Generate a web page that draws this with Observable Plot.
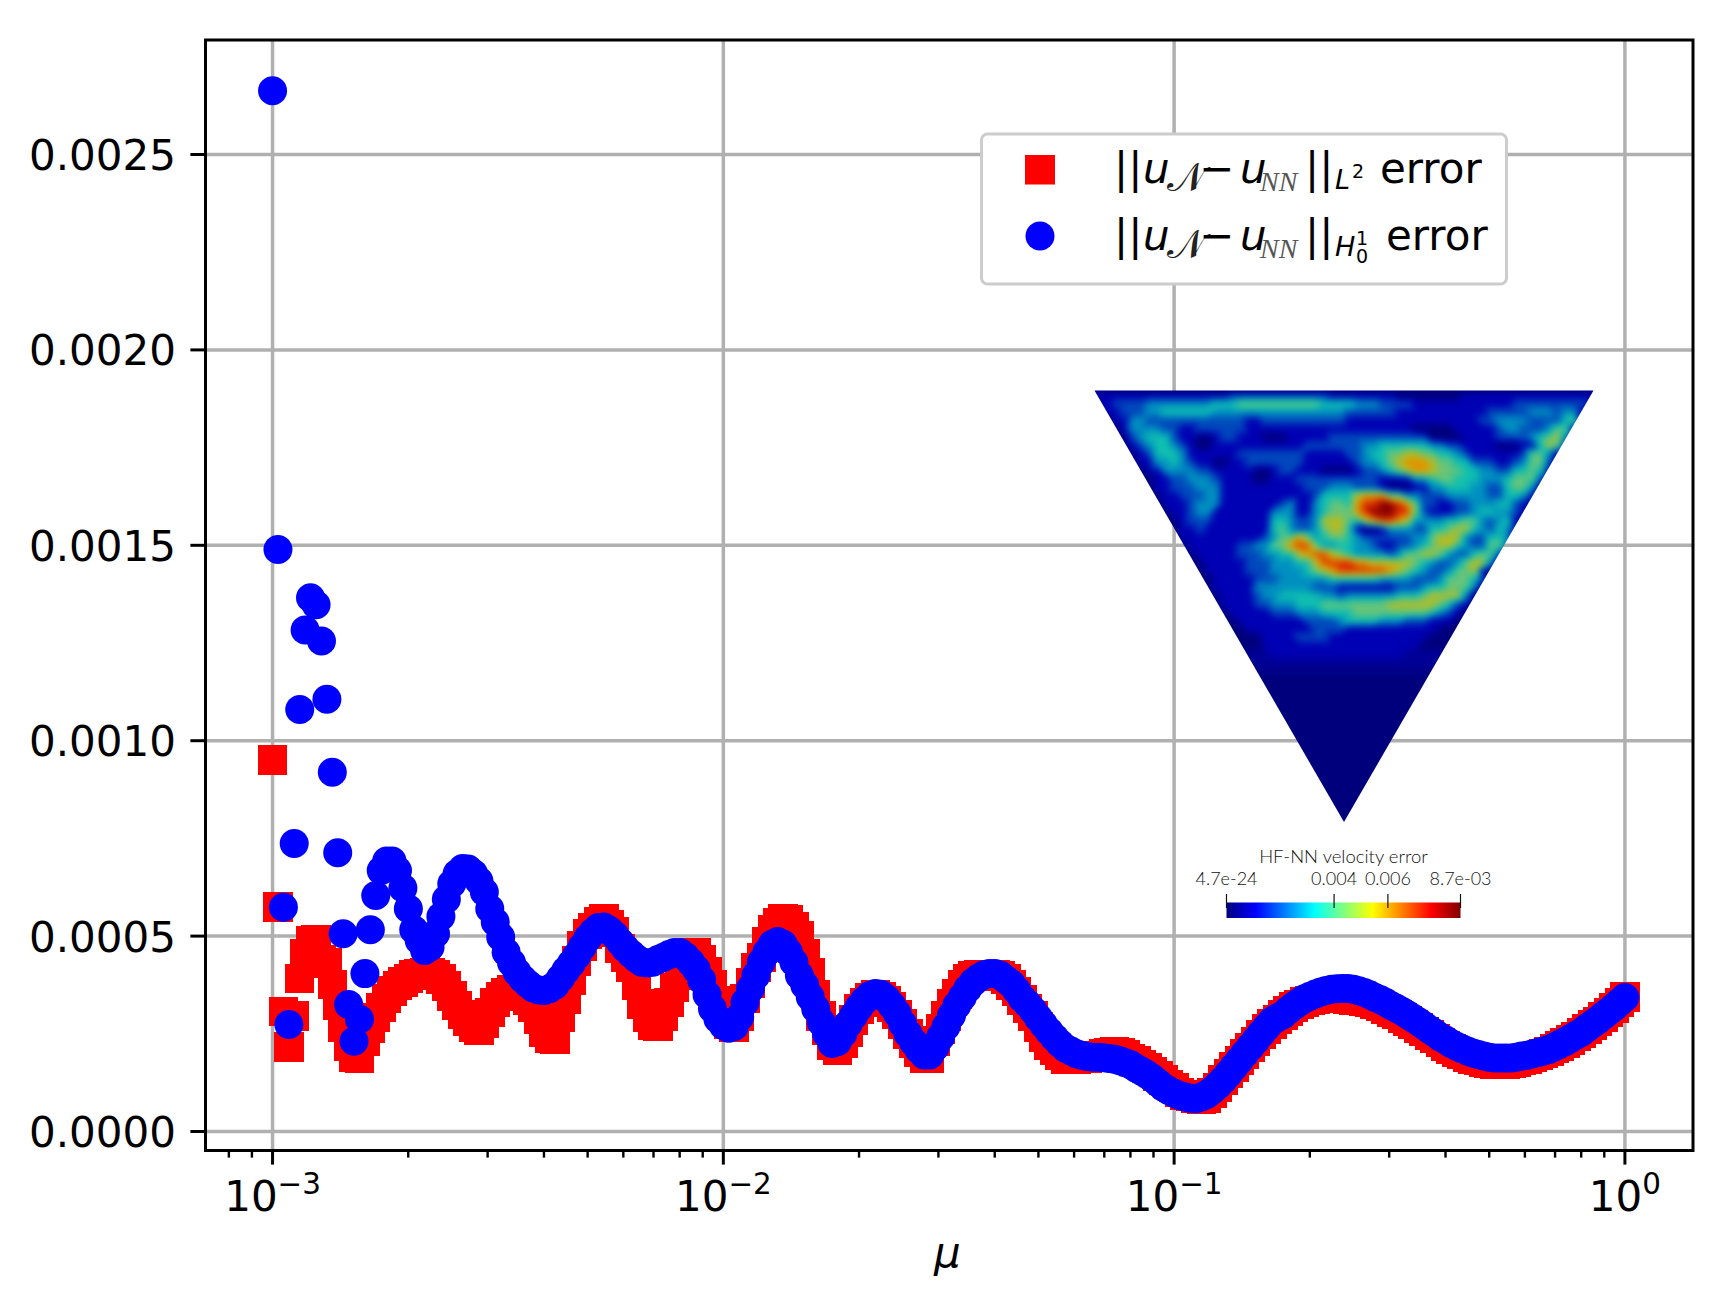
<!DOCTYPE html>
<html>
<head>
<meta charset="utf-8">
<script src="https://cdn.jsdelivr.net/npm/d3@7"></script>
<script src="https://cdn.jsdelivr.net/npm/@observablehq/plot@0.6"></script>
<style>
  body { margin: 0; background: #fff; }
  #chart { position: relative; width: 1735px; height: 1312px; overflow: hidden; }
  #chart svg { position: absolute; max-width: none; }
</style>
</head>
<body>
<div id="chart"></div>
<script>
// mu samples
const muValues = [
  1.000e-3,1.028e-3,1.057e-3,1.087e-3,1.117e-3,1.149e-3,1.181e-3,1.214e-3,1.249e-3,1.284e-3,
  1.320e-3,1.357e-3,1.395e-3,1.434e-3,1.475e-3,1.516e-3,1.559e-3,1.603e-3,1.648e-3,1.694e-3,
  1.742e-3,1.791e-3,1.841e-3,1.893e-3,1.946e-3,2.001e-3,2.057e-3,2.115e-3,2.174e-3,2.236e-3,
  2.299e-3,2.363e-3,2.430e-3,2.498e-3,2.568e-3,2.641e-3,2.715e-3,2.791e-3,2.870e-3,2.950e-3,
  3.033e-3,3.119e-3,3.207e-3,3.297e-3,3.390e-3,3.485e-3,3.583e-3,3.684e-3,3.787e-3,3.894e-3,
  4.003e-3,4.116e-3,4.232e-3,4.351e-3,4.473e-3,4.599e-3,4.728e-3,4.861e-3,4.998e-3,5.139e-3,
  5.283e-3,5.432e-3,5.585e-3,5.742e-3,5.903e-3,6.069e-3,6.240e-3,6.416e-3,6.596e-3,6.782e-3,
  6.972e-3,7.168e-3,7.370e-3,7.578e-3,7.791e-3,8.010e-3,8.235e-3,8.467e-3,8.705e-3,8.950e-3,
  9.202e-3,9.460e-3,9.727e-3,
  1.000e-2,1.028e-2,1.057e-2,1.087e-2,1.117e-2,1.149e-2,1.181e-2,1.214e-2,1.249e-2,1.284e-2,
  1.320e-2,1.357e-2,1.395e-2,1.434e-2,1.475e-2,1.516e-2,1.559e-2,1.603e-2,1.648e-2,1.694e-2,
  1.742e-2,1.791e-2,1.841e-2,1.893e-2,1.946e-2,2.001e-2,2.057e-2,2.115e-2,2.174e-2,2.236e-2,
  2.299e-2,2.363e-2,2.430e-2,2.498e-2,2.568e-2,2.641e-2,2.715e-2,2.791e-2,2.870e-2,2.950e-2,
  3.033e-2,3.119e-2,3.207e-2,3.297e-2,3.390e-2,3.485e-2,3.583e-2,3.684e-2,3.787e-2,3.894e-2,
  4.003e-2,4.116e-2,4.232e-2,4.351e-2,4.473e-2,4.599e-2,4.728e-2,4.861e-2,4.998e-2,5.139e-2,
  5.283e-2,5.432e-2,5.585e-2,5.742e-2,5.903e-2,6.069e-2,6.240e-2,6.416e-2,6.596e-2,6.782e-2,
  6.972e-2,7.168e-2,7.370e-2,7.578e-2,7.791e-2,8.010e-2,8.235e-2,8.467e-2,8.705e-2,8.950e-2,
  9.202e-2,9.460e-2,9.727e-2,
  1.000e-1,1.028e-1,1.057e-1,1.087e-1,1.117e-1,1.149e-1,1.181e-1,1.214e-1,1.249e-1,1.284e-1,
  1.320e-1,1.357e-1,1.395e-1,1.434e-1,1.475e-1,1.516e-1,1.559e-1,1.603e-1,1.648e-1,1.694e-1,
  1.742e-1,1.791e-1,1.841e-1,1.893e-1,1.946e-1,2.001e-1,2.057e-1,2.115e-1,2.174e-1,2.236e-1,
  2.299e-1,2.363e-1,2.430e-1,2.498e-1,2.568e-1,2.641e-1,2.715e-1,2.791e-1,2.870e-1,2.950e-1,
  3.033e-1,3.119e-1,3.207e-1,3.297e-1,3.390e-1,3.485e-1,3.583e-1,3.684e-1,3.787e-1,3.894e-1,
  4.003e-1,4.116e-1,4.232e-1,4.351e-1,4.473e-1,4.599e-1,4.728e-1,4.861e-1,4.998e-1,5.139e-1,
  5.283e-1,5.432e-1,5.585e-1,5.742e-1,5.903e-1,6.069e-1,6.240e-1,6.416e-1,6.596e-1,6.782e-1,
  6.972e-1,7.168e-1,7.370e-1,7.578e-1,7.791e-1,8.010e-1,8.235e-1,8.467e-1,8.705e-1,8.950e-1,
  9.202e-1,9.460e-1,9.727e-1,1
];

// L2 error (red squares)
const errorL2 = [
  .00095,.000574,.000307,.000216,.000296,.000391,.000455,.000489,.00049,.00044,
  .000431,.000376,.000322,.000266,.000219,.00019,.000187,.000232,.000264,.000292,
  .000317,.00034,.00036,.000373,.000383,.000392,.0004,.000404,.000407,.000405,
  .0004,.00039,.000372,.000347,.000323,.0003,.000283,.000268,.000258,.000278,
  .000305,.00033,.000345,.000355,.000362,.000362,.000352,.000335,.000317,.000288,
  .000254,.000238,.000236,.000292,.000339,.000388,.000436,.000475,.000505,.000522,
  .000538,.000545,.00053,.00051,.000468,.000445,.00042,.000373,.000326,.000292,
  .000271,.00027,.000296,.00033,.000368,.0004,.00043,.000445,.000457,.00044,
  .00041,.000375,.000335,.000305,.000275,.000266,.000295,.00034,.00038,.00042,
  .000445,.000485,.000515,.000535,.000545,.000542,.000525,.0005,.000455,.000405,
  .00035,.000295,.00026,.00022,.000208,.000225,.000255,.000285,.000313,.00033,
  .000342,.00035,.000345,.000335,.000318,.0003,.000275,.00025,.000225,.000203,
  .000188,.000187,.000232,.000262,.000295,.000327,.000352,.000375,.000392,.000398,
  .0004,.000402,.000402,.000402,.000398,.00039,.000375,.000358,.000337,.000315,
  .000295,.000268,.000242,.000221,.000209,.000195,.000185,.000185,.000186,.000187,
  .000188,.000192,.000195,.000198,.000202,.000203,.000202,.000197,.000187,.00018,
  .000172,.000162,.000153,.000142,.000132,.00012,.000112,.0001,.000094,.00009,
  .000086,.000083,.000086,.000098,.000113,.000132,.000148,.000165,.000182,.000198,
  .000215,.00023,.000248,.000262,.000275,.000286,.000298,.000308,.000318,.000325,
  .000331,.000335,.000338,.00034,.000341,.000341,.000341,.00034,.000338,.000337,
  .000335,.000333,.00033,.000326,.00032,.000313,.000306,.000299,.000291,.000283,
  .000274,.000265,.000256,.000247,.000238,.000228,.000219,.000211,.000204,.000197,
  .000191,.000186,.000182,.000178,.000175,.000173,.000172,.000173,.000175,.000178,
  .000182,.000186,.00019,.000195,.0002,.000205,.000212,.000219,.000226,.000234,
  .000243,.000252,.000262,.000272,.000282,.000293,.000304,.000316,.00033,.000344
];

// H1_0 error (blue circles)
const errorH1 = [
  .002663,.001489,.000574,.000274,.000737,.00108,.001283,.001366,.001348,.001255,
  .001106,.000919,.000713,.000506,.000325,.000231,.000287,.000404,.000516,.000604,
  .000668,.000692,.000692,.000668,.000623,.00057,.000516,.000489,.000463,.000472,
  .000506,.00055,.000594,.000634,.00066,.000673,.000672,.00066,.000641,.000613,
  .00057,.000536,.000498,.000459,.000432,.000408,.000391,.000378,.000367,.000362,
  .000361,.000365,.000374,.000392,.000412,.00043,.00045,.000472,.000494,.00051,
  .000522,.000523,.000515,.000502,.000485,.000468,.000455,.000443,.000433,.000431,
  .000433,.00044,.000446,.000453,.000458,.000458,.000448,.000433,.000415,.000388,
  .00035,.000314,.000288,.000271,.000264,.000269,.000293,.000331,.000366,.000399,
  .000433,.000459,.000479,.000486,.000479,.000459,.000433,.000399,.000374,.000344,
  .000314,.00028,.00025,.000225,.00023,.00025,.000276,.000297,.000318,.000335,
  .000348,.000353,.000351,.00034,.000323,.000302,.000276,.00025,.000229,.00021,
  .000196,.000196,.000216,.000242,.000269,.000297,.000323,.000344,.000365,.000382,
  .000393,.000401,.000404,.000404,.0004,.000389,.000378,.000361,.000341,.000327,
  .00031,.000291,.000273,.000256,.00024,.000225,.000213,.000206,.000199,.000195,
  .000192,.00019,.00019,.000189,.000187,.000185,.000181,.000176,.000171,.000162,
  .000154,.000146,.000136,.000125,.000113,.000105,.000098,.000092,.000088,.000085,
  .000084,.000088,.000095,.000105,.000118,.000132,.000148,.000165,.000182,.000199,
  .000216,.000233,.00025,.000267,.000282,.000291,.000298,.00031,.000321,.000331,
  .00034,.000346,.000352,.000357,.000361,.000364,.000365,.000366,.000366,.000364,
  .00036,.000356,.00035,.000343,.000337,.00033,.000322,.000315,.000307,.000299,
  .00029,.000281,.000271,.000261,.000252,.000242,.000234,.000225,.000218,.000212,
  .000206,.000201,.000197,.000193,.00019,.000188,.000188,.000188,.000188,.00019,
  .000193,.000195,.000199,.000202,.000206,.00021,.000216,.000223,.00023,.000238,
  .000246,.000254,.000265,.000275,.000285,.000296,.000307,.000318,.000331,.000343
];

const xMajor = [1e-3, 1e-2, 1e-1, 1];
const xMajorExponents = ['−3', '−2', '−1', '0'];
const xMinor = [8e-4, 9e-4,
  2e-3, 3e-3, 4e-3, 5e-3, 6e-3, 7e-3, 8e-3, 9e-3,
  2e-2, 3e-2, 4e-2, 5e-2, 6e-2, 7e-2, 8e-2, 9e-2,
  2e-1, 3e-1, 4e-1, 5e-1, 6e-1, 7e-1, 8e-1, 9e-1];
const yTicks = [0, 0.0005, 0.001, 0.0015, 0.002, 0.0025];

// inset velocity error field, one digit per cell (levels 0 to 9, a = 0.5), spaces only group the digits
const heatRowY = [5, 20, 45, 70, 95, 120, 145, 170, 195, 220, 245, 270, 295, 320, 345, 370, 395, 420, 445,
  470, 495, 520, 545, 570, 595, 620, 645, 670, 695, 720, 745, 770, 795, 820, 870, 1320];
const heatRows = [
  '0000000000 0000000000 0000000000 0000000000 0000000000 0000000000',
  '1111111111111111 222222222222 11111111 00000000 1111111111111111',
  '11 2222 33333333 444 5555555555 4444 333 2222 111111111111 222222222 1',
  '111 222 33 444444 33333333333333 3322 2222 11111111 111222 223332 33 10',
  '00 11 33 22 2222222222 11222222222211 11111111 111111 2233332 222 45 00',
  '000 1 333 32 211 222222 11111111111111 111111 00000 11111 2332 22 355 100',
  '0000 2 3444 211 00 122 111 000 11111 22222 2222222 0000 1111 2222 34 56 3 000',
  '0000 1 2344 3 2 100 1111 1111 111222 2222 33 444444 33 22 1111 000 11 465 1000',
  '00000 12 444 3 111 111 22222222 111112 23 44 55 66 55 44 32 111111 2 55 3 00000',
  '00000 11 33 43 21 10 011 2222222 1111 112 33 45 6777 65 544 222 112 355 2 00000',
  '000000 11 3333 22 11111 00 122 111 0000 1 22 34 56 77 65 55 44 33 22 44 54 100000',
  '000000 01 122 333 2 1111 00 111 22222222 2211 11 33 4554 44 33 34 555 2 000000',
  '0000000 112 22 333 1111111111 222 333 2221 000 11 33 444 33 22 455 3 0000000',
  '0000000 011 222 33 11111111111 2 4444 6777 55 33 222 33333 22 44 3 10000000',
  '00000000 111 2333 1111111 23 11 34 55 4 7 8899 87 5 22 11 223 33 44 21 00000000',
  '000000000 11 233 1111111 333 11 34 555 7 89998 8 5 21 11 22 344 33 21 00000000',
  '000000000 01 222 1111111 44 32 23 666 54 67 887 63 333 44 55 32 34 1 000000000',
  '0000000000 112 11111111 45 32 23 566 4 1001 333 22 44 566 43 24 3 1 000000000',
  '0000000000 1111111111 23 55 75 34 55 43 222222 33 5666 32 24 43 0000000000',
  '00000000000 11111 122 33 55 788 53 344 332 11 22 34 566 43 22 55 2 0000000000',
  '000000000000 11111 222 33 44 67 88 65 43 333 23 55 665 322 455 2 00000000000',
  '000000000000 011111 222 33 344 6 8888 77 66 666 54 32 23 566 3 000000000000',
  '0000000000000 11111 222 3333 45 67 88888 87 654 32 23 556 1 0000000000000',
  '00000000000000 11111 222 333333 444444 3333 222 3555 42 0000000000000',
  '00000000000000 11111 3333333 222 1111111 222 344 555 3 00000000000000',
  '000000000000000 1111 233 4444 433 233 3333 444 56666 3 000000000000000',
  '000000000000000 1111 2233 344 455555555 666666 54 21 000000000000000',
  '0000000000000000 11111 222 333 4444 555555555 432 1 0000000000000000',
  '00000000000000000 111111 112 222 3444433 3222 111 0 0000000000000000',
  '000000000000000000 111111 11222211 111111111 0 000000000000000000',
  '0000000000000000000 0111 122221 11111111111 00000000000000000000',
  '00000000000000000000 1111111111111111111 000000000000000000000',
  '000000000000000000 aaa 1111111111111111 aaaaa 000000000000000000',
  '0000000000000000000 aaaaaaaaaaaaaaaaaaaaaa 0000000000000000000',
  '0000000000 0000000000 0000000000 0000000000 0000000000 0000000000',
  '0000000000 0000000000 0000000000 0000000000 0000000000 0000000000'
];
const heatLevels = [0, 1, 2, 3, 4, 5, 6, 7, 8, 9];
const heatColors = ['#00007c', '#0000b4', '#0048bc', '#0090c0', '#10c0b0', '#68c478', '#b4bc20', '#e09400', '#dc2c00', '#860000'];

// colour bar
const barStops = [0, 0.0010875, 0.0032625, 0.0054375, 0.0076125, 0.0087];
const barColors = ['#00007f', '#0000ff', '#00ffff', '#ffff00', '#ff0000', '#7f0000'];
const barTicks = [0, 0.004, 0.006, 0.0087];
const barLabels = ['4.7e-24', '0.004', '0.006', '8.7e-03'];

const chart = document.getElementById('chart');

const main = Plot.plot({
  width: 1735,
  height: 1312,
  marginLeft: 205,
  marginRight: 42.5,
  marginTop: 39.5,
  marginBottom: 162,
  style: { fontFamily: "'DejaVu Sans'", color: '#000', background: 'transparent', left: 0, top: 0 },
  x: { type: 'log', domain: [0.00071, 1.416] },
  y: { domain: [-0.0000486, 0.002793] },
  marks: [
    Plot.ruleX(xMajor, { stroke: '#b0b0b0', strokeWidth: 3.5 }),
    Plot.ruleY(yTicks, { stroke: '#b0b0b0', strokeWidth: 3.5 }),
    Plot.axisX({ ticks: xMinor, tickSize: 7.6, strokeWidth: 2.4, tickFormat: () => '', label: null }),
    Plot.axisX({
      ticks: xMajor, tickSize: 14.6, strokeWidth: 3, tickPadding: 16, fontSize: 42, label: null,
      tickFormat: d => '10^' + xMajorExponents[xMajor.indexOf(d)]
    }),
    Plot.axisY({ ticks: yTicks, tickSize: 14.6, strokeWidth: 3, tickFormat: () => '', label: null }),
    Plot.axisY({ ticks: yTicks, tickSize: 0, tickPadding: 29.6, dy: 2, fontSize: 42, label: null, tickFormat: d3.format('.4f') }),
    Plot.text(['μ'], { frameAnchor: 'bottom', dy: 116, dx: -2, fontSize: 42, fontStyle: 'italic', lineAnchor: 'bottom' }),
    Plot.dot(errorL2, { x: muValues, y: errorL2, symbol: 'square', r: 16.64, fill: '#ff0000', shapeRendering: 'crispEdges' }),
    Plot.dot(errorH1, { x: muValues, y: errorH1, r: 14.5, fill: '#0000ff' }),
    Plot.frame({ stroke: '#000', strokeWidth: 3 })
  ]
});
chart.appendChild(main);

// superscripts for the decade labels
d3.select(main).selectAll('text').each(function () {
  const label = this.textContent;
  if (!label.startsWith('10^')) return;
  const [base, exponent] = label.split('^');
  const t = d3.select(this).text('');
  t.append('tspan').text(base);
  t.append('tspan').attr('font-size', '70%').attr('dy', '-0.58em').text(exponent);
});

// inset: velocity error on the triangular domain, cells 25 units wide, drawn in 1/3 px units
const heatCells = heatRows.flatMap((row, r) => row.replace(/ /g, '').split('').map((v, c) => ({
  c: 12.5 + 25 * c, r: heatRowY[r], v: v === 'a' ? 0.5 : +v
})));
const inset = Plot.plot({
  width: 519,
  height: 452,
  margin: 0,
  style: { left: '1084.5px', top: '380.5px', clipPath: 'polygon(10px 10px, 509px 10px, 259.5px 441.5px)', background: 'transparent' },
  x: { axis: null, domain: [-28.5, 1528.5] },
  y: { axis: null, domain: [1333.5, -22.5] },
  color: { type: 'linear', domain: heatLevels, range: heatColors, interpolate: 'rgb' },
  marks: [
    Plot.raster(heatCells, { x: 'c', y: 'r', fill: 'v', interpolate: 'barycentric', pixelSize: 1, imageFilter: 'blur(3px)' })
  ]
});
chart.appendChild(inset);

// colour bar under the inset
const bar = Plot.plot({
  width: 394,
  height: 75,
  marginLeft: 80,
  marginRight: 80,
  marginTop: 57,
  marginBottom: 2.5,
  style: { left: '1146px', top: '845px', fontFamily: 'Lato', fontWeight: 300, color: '#111', background: 'transparent', overflow: 'visible' },
  x: { domain: [0, 0.0087] },
  y: { axis: null, domain: [0, 1] },
  color: { type: 'linear', domain: barStops, range: barColors, interpolate: 'rgb' },
  marks: [
    Plot.raster({ fill: (x, y) => x, x1: 0, x2: 0.0087, y1: 0, y2: 1, pixelSize: 1 }),
    Plot.axisX({
      anchor: 'top', ticks: barTicks, tickSize: 14, dy: 5, strokeWidth: 1.2, tickPadding: 9, fontSize: 18, label: null,
      tickFormat: d => barLabels[barTicks.indexOf(d)]
    }),
    Plot.text(['HF-NN velocity error'], { frameAnchor: 'top', dy: -40, lineAnchor: 'bottom', fontSize: 18.5 })
  ]
});
chart.appendChild(bar);

// legend box, same layout as the matplotlib one
const legend = d3.select(chart).append('svg')
  .attr('width', 1735).attr('height', 1312)
  .style('left', 0).style('top', 0)
  .style('font-family', "'DejaVu Sans'");

legend.append('rect')
  .attr('x', 981.5).attr('y', 134).attr('width', 525).attr('height', 150).attr('rx', 6)
  .attr('fill', '#fff').attr('stroke', '#cccccc').attr('stroke-width', 3);
legend.append('rect')
  .attr('x', 1025).attr('y', 155).attr('width', 30).attr('height', 29.5).attr('fill', '#ff0000');
legend.append('circle')
  .attr('cx', 1040).attr('cy', 236).attr('r', 14.5).attr('fill', '#0000ff');

// [text, x, dy from row baseline, size, style, family, colour]
const formulaParts = [
  ['||', 1114, 0, 42, 'normal', 'DejaVu Sans', '#000'],
  ['u', 1143, 0, 42, 'italic', 'DejaVu Sans', '#000'],
  ['𝒩', 1167, 8, 40, 'normal', 'DejaVu Serif', '#222'],
  ['−', 1199, 0, 42, 'normal', 'DejaVu Sans', '#000'],
  ['u', 1240, 0, 42, 'italic', 'DejaVu Sans', '#000'],
  ['NN', 1260, 8, 28, 'italic', 'Liberation Serif', '#555']
];
[183, 249.5].forEach((base, row) => {
  const parts = formulaParts.concat(row === 0
    ? [['||', 1305, 0, 42, 'normal', 'DejaVu Sans', '#000'],
       ['L', 1335, 6, 27, 'italic', 'DejaVu Sans', '#000'],
       ['2', 1352, -5, 19, 'normal', 'DejaVu Sans', '#000'],
       ['error', 1380, 0, 42, 'normal', 'DejaVu Sans', '#000']]
    : [['||', 1305, 0, 42, 'normal', 'DejaVu Sans', '#000'],
       ['H', 1335, 6, 27, 'italic', 'DejaVu Sans', '#000'],
       ['1', 1356, -5, 19, 'normal', 'DejaVu Sans', '#000'],
       ['0', 1356, 13, 19, 'normal', 'DejaVu Sans', '#000'],
       ['error', 1386, 0, 42, 'normal', 'DejaVu Sans', '#000']]);
  const line = legend.append('text');
  parts.forEach(p => line.append('tspan')
    .attr('x', p[1]).attr('y', base + p[2])
    .attr('font-size', p[3]).attr('font-style', p[4]).attr('font-family', p[5]).attr('fill', p[6])
    .text(p[0]));
});
</script>
</body>
</html>
